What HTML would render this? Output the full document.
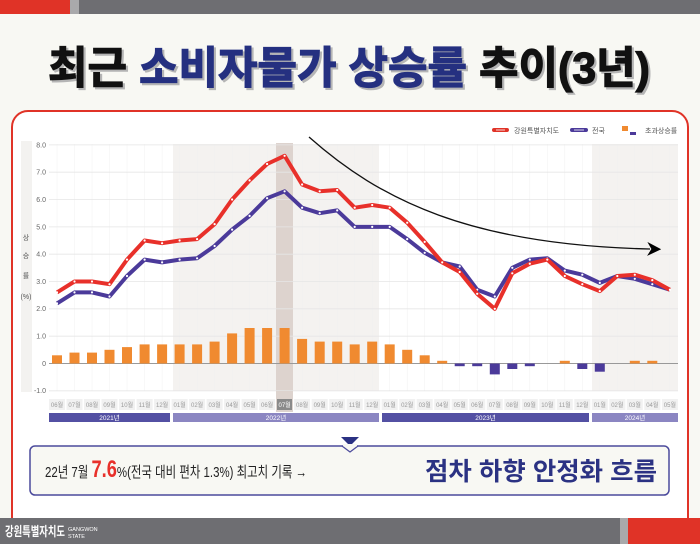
<!DOCTYPE html>
<html><head><meta charset="utf-8"><style>
body{margin:0;width:700px;height:544px;overflow:hidden;background:#f8f8f3;font-family:"Liberation Sans","Noto Sans CJK KR",sans-serif}
svg{display:block}
</style></head><body>
<svg width="700" height="544" viewBox="0 0 700 544" xmlns="http://www.w3.org/2000/svg" font-family="Liberation Sans, Noto Sans CJK KR, sans-serif">
<defs>
<marker id="dot" viewBox="0 0 4 4" refX="2" refY="2" markerWidth="4" markerHeight="4" markerUnits="userSpaceOnUse"><circle cx="2" cy="2" r="1.1" fill="#fff"/></marker>
<marker id="ah" viewBox="0 0 10 10" refX="2" refY="5" markerWidth="14" markerHeight="14" markerUnits="userSpaceOnUse" orient="auto"><path d="M0,0 L10,5 L0,10 L3,5z" fill="#000"/></marker>
</defs>
<rect x="0" y="0" width="700" height="544" fill="#f8f8f3"/>
<rect x="0" y="0" width="70" height="14" fill="#e03327"/>
<rect x="70" y="0" width="9" height="14" fill="#a9a9ab"/>
<rect x="79" y="0" width="621" height="14" fill="#6e6e72"/>
<g font-size="44" font-weight="bold">
<text x="50" y="85" fill="#b5b5b5" textLength="602" lengthAdjust="spacingAndGlyphs" stroke="#b5b5b5" stroke-width="1.5">최근 소비자물가 상승률 추이(3년)</text>
<text x="48" y="83" fill="#111" stroke="#111" stroke-width="1.2" textLength="602" lengthAdjust="spacingAndGlyphs">최근 <tspan fill="#253080" stroke="#253080">소비자물가 상승률</tspan> 추이(3년)</text>
</g>
<rect x="12" y="111" width="676" height="430" rx="16" fill="#fff" stroke="#e03327" stroke-width="2"/>
<!-- legend -->
<line x1="494" y1="130" x2="507" y2="130" stroke="#e03327" stroke-width="4" stroke-linecap="round"/>
<line x1="496" y1="130" x2="505" y2="130" stroke="#fff" stroke-width="0.8"/>
<text x="514" y="133" font-size="7" fill="#555">강원특별자치도</text>
<line x1="572" y1="130" x2="586" y2="130" stroke="#4b3a9a" stroke-width="4" stroke-linecap="round"/>
<line x1="574" y1="130" x2="584" y2="130" stroke="#fff" stroke-width="0.8"/>
<text x="592" y="133" font-size="7" fill="#555">전국</text>
<rect x="622" y="126" width="6" height="5" fill="#f08a30"/>
<rect x="630" y="132" width="6" height="3" fill="#4b3a9a"/>
<text x="645" y="133" font-size="7" fill="#555">초과상승률</text>
<!-- y title panel -->
<rect x="21" y="141" width="11" height="251" fill="#f3f2f0"/>
<g font-size="7" fill="#555" text-anchor="middle"><text x="26" y="240">상</text><text x="26" y="258">승</text><text x="26" y="278">률</text><text x="26" y="299">(%)</text></g>
<!-- shaded bands -->
<rect x="173" y="144" width="206" height="247" fill="#f4f2f0"/>
<rect x="592" y="144" width="86" height="247" fill="#f4f2f0"/>
<rect x="276" y="143" width="17" height="248" fill="#ddd3ce"/>
<g stroke="#f0f0f0" stroke-width="0.5">
<path d="M57 144V391M74.5 144V391M92 144V391M109.5 144V391M127 144V391M144.6 144V391M162.1 144V391M179.6 144V391M197.1 144V391M214.6 144V391M232.1 144V391M249.6 144V391M267.1 144V391M302.1 144V391M319.7 144V391M337.2 144V391M354.7 144V391M372.2 144V391M389.7 144V391M407.2 144V391M424.7 144V391M442.2 144V391M459.7 144V391M477.2 144V391M494.8 144V391M512.3 144V391M529.8 144V391M547.3 144V391M564.8 144V391M582.3 144V391M599.8 144V391M617.3 144V391M634.8 144V391M652.3 144V391M669.9 144V391"/>
</g>
<g stroke="#e6e6e6" stroke-width="0.8">
<line x1="49" x2="678" y1="144.9" y2="144.9"/><line x1="49" x2="678" y1="172.2" y2="172.2"/><line x1="49" x2="678" y1="199.5" y2="199.5"/><line x1="49" x2="678" y1="226.9" y2="226.9"/><line x1="49" x2="678" y1="254.2" y2="254.2"/><line x1="49" x2="678" y1="281.5" y2="281.5"/><line x1="49" x2="678" y1="308.8" y2="308.8"/><line x1="49" x2="678" y1="336.2" y2="336.2"/><line x1="49" x2="678" y1="390.8" y2="390.8"/>
</g>
<line x1="49" x2="678" y1="363.5" y2="363.5" stroke="#999" stroke-width="0.9"/>
<g font-size="7" fill="#666" text-anchor="end">
<text x="46" y="147.3">8.0</text><text x="46" y="174.6">7.0</text><text x="46" y="201.9">6.0</text><text x="46" y="229.3">5.0</text><text x="46" y="256.6">4.0</text><text x="46" y="283.9">3.0</text><text x="46" y="311.2">2.0</text><text x="46" y="338.6">1.0</text><text x="46" y="365.9">0</text><text x="46" y="393.2">-1.0</text>
</g>
<g fill="#f08a30">
<rect x="52" y="355.3" width="10" height="8.2"/><rect x="69.5" y="352.6" width="10" height="10.9"/><rect x="87" y="352.6" width="10" height="10.9"/><rect x="104.5" y="349.8" width="10" height="13.7"/><rect x="122" y="347.1" width="10" height="16.4"/><rect x="139.6" y="344.4" width="10" height="19.1"/><rect x="157.1" y="344.4" width="10" height="19.1"/><rect x="174.6" y="344.4" width="10" height="19.1"/><rect x="192.1" y="344.4" width="10" height="19.1"/><rect x="209.6" y="341.6" width="10" height="21.9"/><rect x="227.1" y="333.4" width="10" height="30.1"/><rect x="244.6" y="328" width="10" height="35.5"/><rect x="262.1" y="328" width="10" height="35.5"/><rect x="279.6" y="328" width="10" height="35.5"/><rect x="297.1" y="338.9" width="10" height="24.6"/><rect x="314.7" y="341.6" width="10" height="21.9"/><rect x="332.2" y="341.6" width="10" height="21.9"/><rect x="349.7" y="344.4" width="10" height="19.1"/><rect x="367.2" y="341.6" width="10" height="21.9"/><rect x="384.7" y="344.4" width="10" height="19.1"/><rect x="402.2" y="349.8" width="10" height="13.7"/><rect x="419.7" y="355.3" width="10" height="8.2"/><rect x="437.2" y="360.8" width="10" height="2.7"/><rect x="559.8" y="360.8" width="10" height="2.7"/><rect x="629.8" y="360.8" width="10" height="2.7"/><rect x="647.3" y="360.8" width="10" height="2.7"/>
</g>
<g fill="#4b3a9a">
<rect x="454.7" y="363.5" width="10" height="2.7"/><rect x="472.2" y="363.5" width="10" height="2.7"/><rect x="489.8" y="363.5" width="10" height="10.9"/><rect x="507.3" y="363.5" width="10" height="5.5"/><rect x="524.8" y="363.5" width="10" height="2.7"/><rect x="577.3" y="363.5" width="10" height="5.5"/><rect x="594.8" y="363.5" width="10" height="8.2"/>
</g>
<polyline fill="none" stroke="#4b3a9a" stroke-width="4" stroke-linejoin="round" marker-start="url(#dot)" marker-mid="url(#dot)" marker-end="url(#dot)" points="57,303.4 74.5,292.4 92,292.4 109.5,296.5 127,276 144.6,259.6 162.1,262.4 179.6,259.6 197.1,258.3 214.6,246 232.1,229.6 249.6,215.9 267.1,198.2 284.6,191.3 302.1,207.7 319.7,213.2 337.2,210.4 354.7,226.9 372.2,226.9 389.7,226.9 407.2,239.1 424.7,252.8 442.2,262.4 459.7,266.5 477.2,289.7 494.8,296.5 512.3,267.8 529.8,259.6 547.3,258.3 564.8,270.6 582.3,274.7 599.8,282.9 617.3,276 634.8,278.8 652.3,284.2 669.9,289.7"/>
<polyline fill="none" stroke="#e8302a" stroke-width="4" stroke-linejoin="round" marker-start="url(#dot)" marker-mid="url(#dot)" marker-end="url(#dot)" points="57,292.4 74.5,281.5 92,281.5 109.5,284.2 127,259.6 144.6,240.5 162.1,243.2 179.6,240.5 197.1,239.1 214.6,224.1 232.1,199.5 249.6,180.4 267.1,164 284.6,155.8 302.1,184.5 319.7,191.3 337.2,190 354.7,207.7 372.2,205 389.7,207.7 407.2,222.7 424.7,241.9 442.2,262.4 459.7,272 477.2,293.8 494.8,308.8 512.3,273.3 529.8,263.7 547.3,259.6 564.8,276 582.3,284.2 599.8,291.1 617.3,276 634.8,274.7 652.3,280.1 669.9,289.7"/>
<path d="M309,137 C380,200 470,245 650,249" fill="none" stroke="#111" stroke-width="1.3" marker-end="url(#ah)"/>
<g fill="#f1f1f1">
<rect x="49" y="399" width="16" height="11"/><rect x="66.5" y="399" width="16" height="11"/><rect x="84" y="399" width="16" height="11"/><rect x="101.5" y="399" width="16" height="11"/><rect x="119" y="399" width="16" height="11"/><rect x="136.6" y="399" width="16" height="11"/><rect x="154.1" y="399" width="16" height="11"/><rect x="171.6" y="399" width="16" height="11"/><rect x="189.1" y="399" width="16" height="11"/><rect x="206.6" y="399" width="16" height="11"/><rect x="224.1" y="399" width="16" height="11"/><rect x="241.6" y="399" width="16" height="11"/><rect x="259.1" y="399" width="16" height="11"/><rect x="294.1" y="399" width="16" height="11"/><rect x="311.7" y="399" width="16" height="11"/><rect x="329.2" y="399" width="16" height="11"/><rect x="346.7" y="399" width="16" height="11"/><rect x="364.2" y="399" width="16" height="11"/><rect x="381.7" y="399" width="16" height="11"/><rect x="399.2" y="399" width="16" height="11"/><rect x="416.7" y="399" width="16" height="11"/><rect x="434.2" y="399" width="16" height="11"/><rect x="451.7" y="399" width="16" height="11"/><rect x="469.2" y="399" width="16" height="11"/><rect x="486.8" y="399" width="16" height="11"/><rect x="504.3" y="399" width="16" height="11"/><rect x="521.8" y="399" width="16" height="11"/><rect x="539.3" y="399" width="16" height="11"/><rect x="556.8" y="399" width="16" height="11"/><rect x="574.3" y="399" width="16" height="11"/><rect x="591.8" y="399" width="16" height="11"/><rect x="609.3" y="399" width="16" height="11"/><rect x="626.8" y="399" width="16" height="11"/><rect x="644.3" y="399" width="16" height="11"/><rect x="661.9" y="399" width="16" height="11"/>
</g>
<rect x="276" y="391" width="17" height="21" fill="#ddd3ce"/>
<rect x="277" y="399" width="15" height="11" fill="#8a8a8a"/>
<g font-size="6" fill="#999" text-anchor="middle">
<text x="57" y="407">06월</text><text x="74.5" y="407">07월</text><text x="92" y="407">08월</text><text x="109.5" y="407">09월</text><text x="127" y="407">10월</text><text x="144.6" y="407">11월</text><text x="162.1" y="407">12월</text><text x="179.6" y="407">01월</text><text x="197.1" y="407">02월</text><text x="214.6" y="407">03월</text><text x="232.1" y="407">04월</text><text x="249.6" y="407">05월</text><text x="267.1" y="407">06월</text><text x="284.6" y="407" fill="#fff">07월</text><text x="302.1" y="407">08월</text><text x="319.7" y="407">09월</text><text x="337.2" y="407">10월</text><text x="354.7" y="407">11월</text><text x="372.2" y="407">12월</text><text x="389.7" y="407">01월</text><text x="407.2" y="407">02월</text><text x="424.7" y="407">03월</text><text x="442.2" y="407">04월</text><text x="459.7" y="407">05월</text><text x="477.2" y="407">06월</text><text x="494.8" y="407">07월</text><text x="512.3" y="407">08월</text><text x="529.8" y="407">09월</text><text x="547.3" y="407">10월</text><text x="564.8" y="407">11월</text><text x="582.3" y="407">12월</text><text x="599.8" y="407">01월</text><text x="617.3" y="407">02월</text><text x="634.8" y="407">03월</text><text x="652.3" y="407">04월</text><text x="669.9" y="407">05월</text>
</g>
<rect x="49" y="413" width="121" height="9" fill="#5350a3"/>
<rect x="173" y="413" width="206" height="9" fill="#8b86c2"/>
<rect x="382" y="413" width="207" height="9" fill="#5350a3"/>
<rect x="592" y="413" width="86" height="9" fill="#8b86c2"/>
<g font-size="6.5" fill="#fff" text-anchor="middle">
<text x="109.5" y="420">2021년</text><text x="276" y="420">2022년</text><text x="485.5" y="420">2023년</text><text x="635" y="420">2024년</text>
</g>
<rect x="30" y="446" width="639" height="49" rx="5" fill="#f8f8f3" stroke="#4b4a9c" stroke-width="1.5"/>
<path d="M341,437 L359,437 L350,446z" fill="#2b3283"/>
<path d="M342,446 L350,452 L358,446" fill="#f8f8f3" stroke="#4b4a9c" stroke-width="1.2"/>
<rect x="343" y="444" width="14" height="2.2" fill="#f8f8f3"/>
<text x="45" y="477" font-size="15" fill="#222" textLength="262" lengthAdjust="spacingAndGlyphs">22년 7월 <tspan font-size="24" font-weight="bold" fill="#e8302a">7.6</tspan>%(전국 대비 편차 1.3%) 최고치 기록 →</text>
<text x="425" y="480" font-size="25" font-weight="bold" fill="#2b3283" textLength="232" lengthAdjust="spacingAndGlyphs">점차 하향 안정화 흐름</text>
<rect x="0" y="518" width="700" height="26" fill="#6e6e72"/>
<rect x="620" y="518" width="8" height="26" fill="#a9a9ab"/>
<rect x="628" y="518" width="72" height="26" fill="#e03327"/>
<text x="5" y="536" font-size="13" font-weight="bold" fill="#fff" textLength="60" lengthAdjust="spacingAndGlyphs">강원특별자치도</text>
<text x="68" y="531" font-size="5.5" fill="#fff">GANGWON</text>
<text x="68" y="538" font-size="5.5" fill="#fff">STATE</text>
</svg>
</body></html>
